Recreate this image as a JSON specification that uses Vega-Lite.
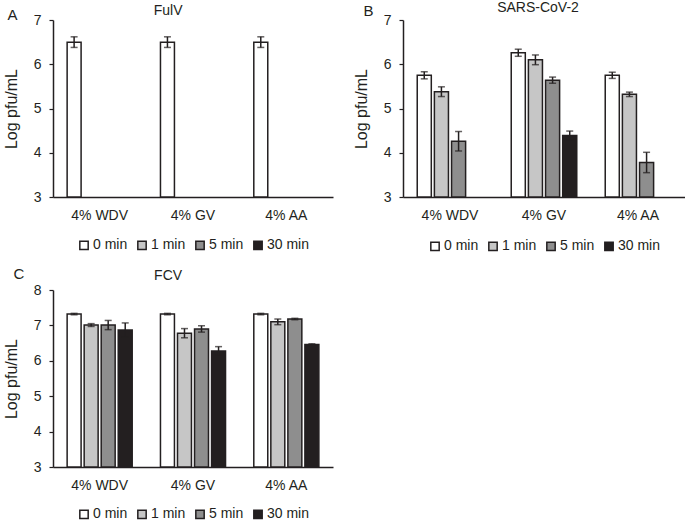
{
  "$schema": "https://vega.github.io/schema/vega-lite/v6.json",
  "background": "white",
  "padding": {"left": 3, "top": 1, "right": 0, "bottom": 0},
  "datasets": {
    "d": [
      {"virus": "FulV", "product": "4% WDV", "time": "0 min", "mean": 6.5, "err": 0.12},
      {"virus": "FulV", "product": "4% GV", "time": "0 min", "mean": 6.5, "err": 0.12},
      {"virus": "FulV", "product": "4% AA", "time": "0 min", "mean": 6.5, "err": 0.12},
      {"virus": "SARS-CoV-2", "product": "4% WDV", "time": "0 min", "mean": 5.75, "err": 0.08},
      {"virus": "SARS-CoV-2", "product": "4% WDV", "time": "1 min", "mean": 5.38, "err": 0.11},
      {"virus": "SARS-CoV-2", "product": "4% WDV", "time": "5 min", "mean": 4.26, "err": 0.22},
      {"virus": "SARS-CoV-2", "product": "4% GV", "time": "0 min", "mean": 6.26, "err": 0.08},
      {"virus": "SARS-CoV-2", "product": "4% GV", "time": "1 min", "mean": 6.1, "err": 0.11},
      {"virus": "SARS-CoV-2", "product": "4% GV", "time": "5 min", "mean": 5.64, "err": 0.07},
      {"virus": "SARS-CoV-2", "product": "4% GV", "time": "30 min", "mean": 4.39, "err": 0.1},
      {"virus": "SARS-CoV-2", "product": "4% AA", "time": "0 min", "mean": 5.75, "err": 0.07},
      {"virus": "SARS-CoV-2", "product": "4% AA", "time": "1 min", "mean": 5.32, "err": 0.05},
      {"virus": "SARS-CoV-2", "product": "4% AA", "time": "5 min", "mean": 3.78, "err": 0.23},
      {"virus": "FCV", "product": "4% WDV", "time": "0 min", "mean": 7.32, "err": 0.02},
      {"virus": "FCV", "product": "4% WDV", "time": "1 min", "mean": 7.01, "err": 0.04},
      {"virus": "FCV", "product": "4% WDV", "time": "5 min", "mean": 7.01, "err": 0.13},
      {"virus": "FCV", "product": "4% WDV", "time": "30 min", "mean": 6.87, "err": 0.2},
      {"virus": "FCV", "product": "4% GV", "time": "0 min", "mean": 7.32, "err": 0.02},
      {"virus": "FCV", "product": "4% GV", "time": "1 min", "mean": 6.78, "err": 0.13},
      {"virus": "FCV", "product": "4% GV", "time": "5 min", "mean": 6.9, "err": 0.09},
      {"virus": "FCV", "product": "4% GV", "time": "30 min", "mean": 6.28, "err": 0.12},
      {"virus": "FCV", "product": "4% AA", "time": "0 min", "mean": 7.32, "err": 0.02},
      {"virus": "FCV", "product": "4% AA", "time": "1 min", "mean": 7.1, "err": 0.08},
      {"virus": "FCV", "product": "4% AA", "time": "5 min", "mean": 7.18, "err": 0.02},
      {"virus": "FCV", "product": "4% AA", "time": "30 min", "mean": 6.46, "err": 0.02}
    ]
  },
  "data": {"name": "d"},
  "vconcat": [
    {
      "hconcat": [
        {
          "width": 280, "height": 177,
          "title": {"text": "FulV", "offset": -10.5, "frame": "bounds"},
          "transform": [{"filter": "datum.virus === 'FulV'"}],
          "layer": [
            {
              "mark": {"type": "bar", "stroke": "#231f20", "strokeWidth": 1.5},
              "encoding": {
                "x": {"field": "product", "type": "nominal", "sort": ["4% WDV", "4% GV", "4% AA"], "scale": {"paddingInner": 0.27, "paddingOuter": 0.135}, "axis": {"title": null, "labelAngle": 0, "ticks": false, "labelPadding": 11}},
                "xOffset": {"field": "time", "type": "nominal", "scale": {"domain": ["0 min", "1 min", "5 min", "30 min"], "paddingInner": 0.18, "paddingOuter": 0.09}},
                "y": {"field": "mean", "type": "quantitative", "title": "Log pfu/mL", "scale": {"domain": [3, 7]}, "axis": {"values": [3, 4, 5, 6, 7], "labelOverlap": false}},
                "y2": {"datum": 3},
                "fill": {"field": "time", "type": "nominal", "scale": {"domain": ["0 min", "1 min", "5 min", "30 min"], "range": ["#ffffff", "#c6c6c6", "#8e8e8e", "#231f20"]}, "legend": {"orient": "bottom", "direction": "horizontal", "columns": 4, "title": null, "offset": 16}}
              }
            },
            {
              "mark": {"type": "errorbar", "color": "#231f20", "thickness": 1.5, "ticks": {"size": 7, "thickness": 1.5, "color": "#231f20"}},
              "encoding": {
                "x": {"field": "product", "type": "nominal", "sort": ["4% WDV", "4% GV", "4% AA"], "axis": {"orient": "top", "labels": false, "ticks": false, "domain": false, "title": "A", "titleX": -46, "titleY": -1, "titleAlign": "left", "titleBaseline": "alphabetic", "titleAngle": 0, "titleFontSize": 15, "titlePadding": 0}},
                "xOffset": {"field": "time", "type": "nominal"},
                "y": {"field": "mean", "type": "quantitative", "title": "Log pfu/mL", "axis": {"values": [3, 4, 5, 6, 7], "labelOverlap": false}},
                "yError": {"field": "err"}
              }
            }
          ],
          "resolve": {"axis": {"x": "independent"}}
        },
        {
          "width": 282, "height": 177,
          "title": {"text": "SARS-CoV-2", "offset": -12, "frame": "group", "dx": -6},
          "transform": [{"filter": "datum.virus === 'SARS-CoV-2'"}],
          "layer": [
            {
              "mark": {"type": "bar", "stroke": "#231f20", "strokeWidth": 1.5},
              "encoding": {
                "x": {"field": "product", "type": "nominal", "sort": ["4% WDV", "4% GV", "4% AA"], "scale": {"paddingInner": 0.27, "paddingOuter": 0.135}, "axis": {"title": null, "labelAngle": 0, "ticks": false, "labelPadding": 11}},
                "xOffset": {"field": "time", "type": "nominal", "scale": {"domain": ["0 min", "1 min", "5 min", "30 min"], "paddingInner": 0.18, "paddingOuter": 0.09}},
                "y": {"field": "mean", "type": "quantitative", "title": "Log pfu/mL", "scale": {"domain": [3, 7]}, "axis": {"values": [3, 4, 5, 6, 7], "labelOverlap": false}},
                "y2": {"datum": 3},
                "fill": {"field": "time", "type": "nominal", "scale": {"domain": ["0 min", "1 min", "5 min", "30 min"], "range": ["#ffffff", "#c6c6c6", "#8e8e8e", "#231f20"]}, "legend": {"orient": "bottom", "direction": "horizontal", "columns": 4, "title": null, "offset": 17}}
              }
            },
            {
              "mark": {"type": "errorbar", "color": "#231f20", "thickness": 1.5, "ticks": {"size": 7, "thickness": 1.5, "color": "#231f20"}},
              "encoding": {
                "x": {"field": "product", "type": "nominal", "sort": ["4% WDV", "4% GV", "4% AA"], "axis": {"orient": "top", "labels": false, "ticks": false, "domain": false, "title": "B", "titleX": -40, "titleY": -5, "titleAlign": "left", "titleBaseline": "alphabetic", "titleAngle": 0, "titleFontSize": 15, "titlePadding": 0}},
                "xOffset": {"field": "time", "type": "nominal"},
                "y": {"field": "mean", "type": "quantitative", "title": "Log pfu/mL", "axis": {"values": [3, 4, 5, 6, 7], "labelOverlap": false}},
                "yError": {"field": "err"}
              }
            }
          ],
          "resolve": {"axis": {"x": "independent"}}
        }
      ],
      "spacing": 20,
      "resolve": {"scale": {"fill": "independent", "xOffset": "independent"}, "legend": {"fill": "independent"}}
    },
    {
      "width": 280, "height": 177,
      "title": {"text": "FCV", "offset": -17, "frame": "bounds"},
      "transform": [{"filter": "datum.virus === 'FCV'"}],
      "layer": [
        {
          "mark": {"type": "bar", "stroke": "#231f20", "strokeWidth": 1.5},
          "encoding": {
            "x": {"field": "product", "type": "nominal", "sort": ["4% WDV", "4% GV", "4% AA"], "scale": {"paddingInner": 0.27, "paddingOuter": 0.135}, "axis": {"title": null, "labelAngle": 0, "ticks": false, "labelPadding": 11}},
            "xOffset": {"field": "time", "type": "nominal", "scale": {"domain": ["0 min", "1 min", "5 min", "30 min"], "paddingInner": 0.18, "paddingOuter": 0.09}},
            "y": {"field": "mean", "type": "quantitative", "title": "Log pfu/mL", "scale": {"domain": [3, 8]}, "axis": {"values": [3, 4, 5, 6, 7, 8], "labelOverlap": false}},
            "y2": {"datum": 3},
            "fill": {"field": "time", "type": "nominal", "scale": {"domain": ["0 min", "1 min", "5 min", "30 min"], "range": ["#ffffff", "#c6c6c6", "#8e8e8e", "#231f20"]}, "legend": {"orient": "bottom", "direction": "horizontal", "columns": 4, "title": null, "offset": 15}}
          }
        },
        {
          "mark": {"type": "errorbar", "color": "#231f20", "thickness": 1.5, "ticks": {"size": 7, "thickness": 1.5, "color": "#231f20"}},
          "encoding": {
            "x": {"field": "product", "type": "nominal", "sort": ["4% WDV", "4% GV", "4% AA"], "axis": {"orient": "top", "labels": false, "ticks": false, "domain": false, "title": "C", "titleX": -40, "titleY": -12, "titleAlign": "left", "titleBaseline": "alphabetic", "titleAngle": 0, "titleFontSize": 15, "titlePadding": 0}},
            "xOffset": {"field": "time", "type": "nominal"},
            "y": {"field": "mean", "type": "quantitative", "title": "Log pfu/mL", "axis": {"values": [3, 4, 5, 6, 7, 8], "labelOverlap": false}},
            "yError": {"field": "err"}
          }
        }
      ],
      "resolve": {"axis": {"x": "independent"}}
    }
  ],
  "resolve": {"scale": {"fill": "independent", "xOffset": "independent", "y": "independent"}, "legend": {"fill": "independent"}},
  "spacing": 12,
  "config": {
    "font": "Liberation Sans",
    "concat": {"spacing": 20},
    "view": {"stroke": null},
    "title": {"fontSize": 14, "fontWeight": "normal", "color": "#231f20", "anchor": "middle"},
    "axis": {
      "grid": false,
      "domainColor": "#231f20",
      "domainWidth": 1.5,
      "tickColor": "#231f20",
      "tickWidth": 1.2,
      "tickSize": 4,
      "labelColor": "#231f20",
      "labelFontSize": 14,
      "labelPadding": 8,
      "titleColor": "#231f20",
      "titleFontSize": 16,
      "titleFontWeight": "normal",
      "titlePadding": 14
    },
    "legend": {
      "symbolType": "square",
      "symbolSize": 70,
      "symbolStrokeColor": "#231f20",
      "symbolStrokeWidth": 1.5,
      "labelFontSize": 14,
      "labelColor": "#231f20",
      "labelOffset": 2,
      "columnPadding": 6,
      "layout": {"bottom": {"anchor": "middle"}}
    }
  }
}
